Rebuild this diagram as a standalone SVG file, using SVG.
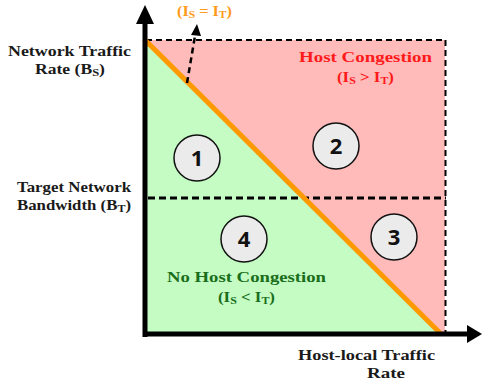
<svg xmlns="http://www.w3.org/2000/svg" width="482" height="385" viewBox="0 0 482 385">
<style>
.lbl{font-family:"Liberation Serif","Times New Roman",serif;font-weight:bold;font-size:15.5px;fill:#1a1a1a}
.num{font-family:"Open Sans","DejaVu Sans",sans-serif;font-weight:bold;font-size:22px;fill:#111}
.circ{fill:#ebebeb;stroke:#111;stroke-width:1.5}
.dash{stroke:#000;stroke-width:2;stroke-dasharray:6 4;fill:none}
.sub{font-size:11px}
</style>
<g id="regions">
<rect x="147" y="40" width="298" height="293" fill="#ffbaba"/>
<polygon points="147,40 147,333 441,333" fill="#c4fcc4"/>
</g>
<g id="connectors">
<line class="dash" x1="146" y1="40" x2="446" y2="40"/>
<line class="dash" x1="445.5" y1="40" x2="445.5" y2="333"/>
<line x1="148" y1="198" x2="446" y2="198" stroke="#000" stroke-width="3" stroke-dasharray="7 4"/>
<line x1="144" y1="39" x2="440" y2="333" stroke="#ff9900" stroke-width="5"/>
<line x1="145" y1="22" x2="145" y2="337" stroke="#000" stroke-width="5"/>
<polygon points="145,5 136,24 154,24" fill="#000"/>
<line x1="143" y1="334" x2="468" y2="334" stroke="#000" stroke-width="5"/>
<polygon points="482,334 467,325 467,343" fill="#000"/>
<line x1="187" y1="83" x2="195.5" y2="33" stroke="#000" stroke-width="2.5" stroke-dasharray="6 4"/>
<polygon points="197,24 191,35 201,36" fill="#000"/>
</g>
<g id="node1"><circle class="circ" cx="197" cy="158" r="23"/><text class="num" x="197" y="166" text-anchor="middle">1</text></g>
<g id="node2"><circle class="circ" cx="336" cy="146" r="23"/><text class="num" x="336" y="154" text-anchor="middle">2</text></g>
<g id="node3"><circle class="circ" cx="394" cy="237" r="23"/><text class="num" x="394" y="245" text-anchor="middle">3</text></g>
<g id="node4"><circle class="circ" cx="244" cy="239" r="23"/><text class="num" x="244" y="247" text-anchor="middle">4</text></g>
<g id="labels">
<text class="lbl" x="8" y="56" textLength="123" lengthAdjust="spacingAndGlyphs">Network Traffic</text>
<text class="lbl" x="35" y="74" textLength="70" lengthAdjust="spacingAndGlyphs">Rate (B<tspan class="sub" dy="2">S</tspan><tspan dy="-2">)</tspan></text>
<text class="lbl" x="17" y="192" textLength="114" lengthAdjust="spacingAndGlyphs">Target Network</text>
<text class="lbl" x="17" y="210" textLength="114" lengthAdjust="spacingAndGlyphs">Bandwidth (B<tspan class="sub" dy="2">T</tspan><tspan dy="-2">)</tspan></text>
<text class="lbl" x="298" y="360" textLength="137" lengthAdjust="spacingAndGlyphs">Host-local Traffic</text>
<text class="lbl" x="367" y="378" textLength="38" lengthAdjust="spacingAndGlyphs">Rate</text>
<text class="lbl" x="299" y="62" textLength="133" lengthAdjust="spacingAndGlyphs" style="fill:#ff1a1a">Host Congestion</text>
<text class="lbl" x="337" y="82" textLength="57" lengthAdjust="spacingAndGlyphs" style="fill:#ff1a1a">(I<tspan class="sub" dy="2">S</tspan><tspan dy="-2"> &gt; I</tspan><tspan class="sub" dy="2">T</tspan><tspan dy="-2">)</tspan></text>
<text class="lbl" x="167" y="282" textLength="159" lengthAdjust="spacingAndGlyphs" style="fill:#1a6e1a">No Host Congestion</text>
<text class="lbl" x="218" y="302" textLength="57" lengthAdjust="spacingAndGlyphs" style="fill:#1a6e1a">(I<tspan class="sub" dy="2">S</tspan><tspan dy="-2"> &lt; I</tspan><tspan class="sub" dy="2">T</tspan><tspan dy="-2">)</tspan></text>
<text class="lbl" x="177" y="16" textLength="55" lengthAdjust="spacingAndGlyphs" style="fill:#ff9a1a">(I<tspan class="sub" dy="2">S</tspan><tspan dy="-2"> = I</tspan><tspan class="sub" dy="2">T</tspan><tspan dy="-2">)</tspan></text>
</g>
</svg>
